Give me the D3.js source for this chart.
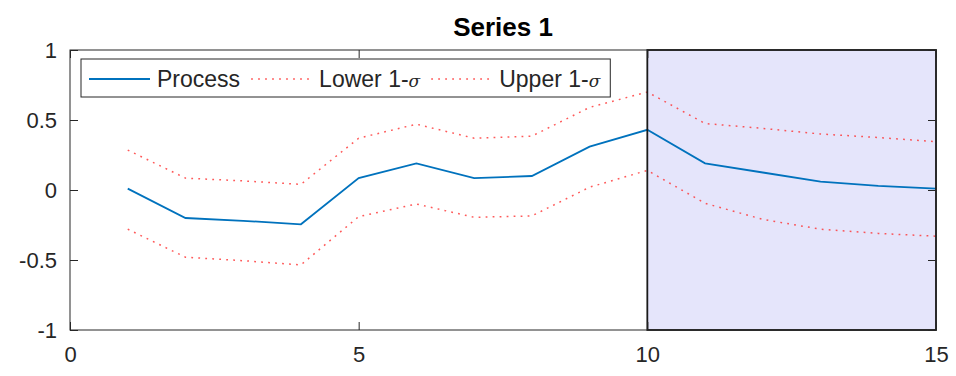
<!DOCTYPE html>
<html>
<head>
<meta charset="utf-8">
<script src="https://cdn.jsdelivr.net/npm/d3@7"></script>
<style>
  html, body { margin: 0; padding: 0; background: #fff; }
  svg { display: block; font-family: "Liberation Sans", Arial, Helvetica, sans-serif; }
</style>
</head>
<body>
<svg id="chart" width="956" height="376"></svg>
<script>
// ---- data ----
const xValues = [1, 2, 3, 4, 5, 6, 7, 8, 9, 10, 11, 12, 13, 14, 15];
const processValues = [0.01, -0.2, -0.22, -0.245, 0.085, 0.19, 0.085, 0.10, 0.31, 0.43, 0.19, 0.125, 0.06, 0.03, 0.01];
const lowerValues = [-0.28, -0.48, -0.505, -0.535, -0.19, -0.10, -0.195, -0.185, 0.02, 0.14, -0.095, -0.21, -0.28, -0.31, -0.33];
const upperValues = [0.285, 0.085, 0.065, 0.04, 0.37, 0.47, 0.37, 0.385, 0.59, 0.70, 0.475, 0.44, 0.40, 0.375, 0.345];
const xTicks = [0, 5, 10, 15];
const yTicks = [-1, -0.5, 0, 0.5, 1];
const shadeRange = [10, 15];
const titleText = "Series 1";
const legendLabels = ["Process", "Lower 1-", "Upper 1-"];

// ---- layout ----
const svg = d3.select("#chart");
const pLeft = 70, pRight = 936, pTop = 50, pBottom = 330;
const x = d3.scaleLinear().domain([0, 15]).range([pLeft, pRight]);
const y = d3.scaleLinear().domain([-1, 1]).range([pBottom, pTop]);
const axisColor = "#262626";
const tickLen = 8;

// shaded region
svg.append("rect")
  .attr("x", x(shadeRange[0])).attr("y", y(1))
  .attr("width", x(shadeRange[1]) - x(shadeRange[0]))
  .attr("height", y(-1) - y(1))
  .attr("fill", "#e5e5fb")
  .attr("stroke", "none");

// lines
const line = d3.line().x((d, i) => x(xValues[i])).y(d => y(d));
const redStyle = { stroke: "#ff3030", width: 1.5, dash: "1.8,5.2" };
function dotted(sel) {
  return sel.attr("fill", "none").attr("stroke", redStyle.stroke)
    .attr("stroke-width", redStyle.width).attr("stroke-dasharray", redStyle.dash)
    .attr("stroke-opacity", 0.8);
}
dotted(svg.append("path").datum(lowerValues).attr("d", line));
dotted(svg.append("path").datum(upperValues).attr("d", line));
svg.append("path").datum(processValues).attr("d", line)
  .attr("fill", "none").attr("stroke", "#0072BD").attr("stroke-width", 1.8);

// shade edge
svg.append("rect")
  .attr("x", x(shadeRange[0])).attr("y", y(1))
  .attr("width", x(shadeRange[1]) - x(shadeRange[0]))
  .attr("height", y(-1) - y(1))
  .attr("fill", "none")
  .attr("stroke", "#1a1a1a").attr("stroke-width", 1.8);

// axes box
svg.append("rect")
  .attr("x", pLeft).attr("y", pTop).attr("width", pRight - pLeft).attr("height", pBottom - pTop)
  .attr("fill", "none").attr("stroke", axisColor).attr("stroke-width", 1);

// ticks via d3 axes (inside ticks, mirrored)
const fontTick = 22;
const axB = d3.axisBottom(x).tickValues(xTicks).tickSize(-tickLen).tickFormat(d3.format("d"));
const gB = svg.append("g").attr("transform", `translate(0,${pBottom})`).call(axB);
const axT = d3.axisTop(x).tickValues(xTicks).tickSize(-tickLen).tickFormat("");
const gT = svg.append("g").attr("transform", `translate(0,${pTop})`).call(axT);
const axL = d3.axisLeft(y).tickValues(yTicks).tickSize(-tickLen)
  .tickFormat(d => String(d));
const gL = svg.append("g").attr("transform", `translate(${pLeft},0)`).call(axL);
const axR = d3.axisRight(y).tickValues(yTicks).tickSize(-tickLen).tickFormat("");
const gR = svg.append("g").attr("transform", `translate(${pRight},0)`).call(axR);
[gB, gT, gL, gR].forEach(g => {
  g.select(".domain").remove();
  g.selectAll(".tick line").attr("stroke", axisColor).attr("stroke-width", 1);
  g.selectAll(".tick text").attr("fill", axisColor).style("font-size", fontTick + "px")
    .style("font-family", '"Liberation Sans", Arial, sans-serif');
});
gB.selectAll(".tick text").attr("dy", "0.71em").attr("y", 16);
gL.selectAll(".tick text").attr("x", -13);

// title
svg.append("text").attr("x", (pLeft + pRight) / 2).attr("y", 36)
  .attr("text-anchor", "middle").attr("font-weight", "bold")
  .style("font-size", "26px").attr("fill", "#000").text(titleText);

// legend
const leg = svg.append("g");
const legBox = leg.append("rect").attr("x", 81).attr("y", 59).attr("height", 38)
  .attr("fill", "#fff").attr("stroke", axisColor).attr("stroke-width", 1);
const legY = 79;
let cx = 89;
const sampleLen = 61;
legendLabels.forEach((lab, i) => {
  const l = leg.append("line").attr("x1", cx).attr("x2", cx + sampleLen).attr("y1", legY).attr("y2", legY);
  if (i === 0) l.attr("stroke", "#0072BD").attr("stroke-width", 1.8);
  else dotted(l);
  cx += sampleLen + 7;
  const t = leg.append("text").attr("x", cx).attr("y", legY).attr("dy", "0.35em")
    .style("font-size", "23px").attr("fill", axisColor).text(lab);
  if (i > 0) {
    t.append("tspan").attr("font-style", "italic").style("font-family", '"DejaVu Serif", serif')
      .style("font-size", "17px").text("\u03c3");
  }
  cx += t.node().getComputedTextLength() + 11;
});
legBox.attr("width", cx - 81 - 1);
</script>
</body>
</html>
